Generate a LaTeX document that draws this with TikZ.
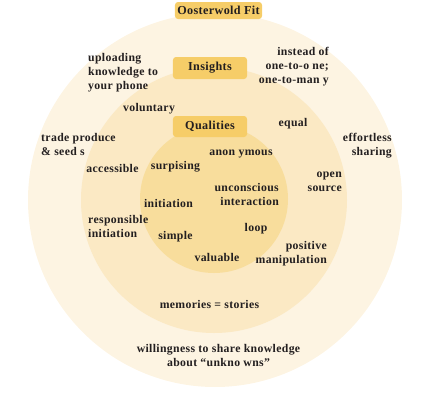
\documentclass[tikz,border=0pt]{standalone}
\usepackage{fontspec}
\setmainfont{Liberation Serif}[LetterSpace=3]
\usetikzlibrary{positioning}

\definecolor{ringout}{HTML}{FDF4E2}
\definecolor{ringmid}{HTML}{FBE9C4}
\definecolor{ringin}{HTML}{F8DD9C}
\definecolor{boxfill}{HTML}{F6CD68}
\definecolor{ink}{HTML}{231F20}

\tikzset{
  title/.style={fill=boxfill, rounded corners=3bp, text=ink, inner sep=0pt,
    font=\bfseries\fontsize{12.2}{14}\selectfont},
  word/.style={text=ink, inner sep=0pt, font=\bfseries\fontsize{11.8}{14}\selectfont}
}

\begin{document}
\begin{tikzpicture}[x=1bp, y=-1bp]
    \useasboundingbox (0,0) rectangle (429,400);

    % rings
    \fill[ringout] (215,200) circle (187);
    \fill[ringmid] (214,200) circle (133);
    \fill[ringin] (214,199) circle (74);

    % headings
    \node[title, minimum width=87bp, minimum height=17bp] (fit) at (218.5,10.5) {Oosterwold Fit};
    \node[title, minimum width=74bp, minimum height=22bp] (insights) at (210,68) {Insights};
    \node[title, minimum width=74bp, minimum height=21bp] (qualities) at (210,126.5) {Qualities};

    % outer ring
    \node[word, align=left, anchor=west] (upload) at (88,73) {uploading\\knowledge to\\your phone};
    \node[word, align=right, anchor=east] (instead) at (329,67) {instead of\\one-to-o ne;\\one-to-man y};
    \node[word, align=left, anchor=west] (trade) at (41,144.5) {trade produce\\\& seed s};
    \node[word, align=right, anchor=east] (effort) at (392,145.5) {effortless\\sharing};
    \node[word, align=center] (willing) at (218.5,355.5) {willingness to share knowledge\\about “unkno wns”};

    % middle ring
    \node[word] (volunt) at (149,109) {voluntary};
    \node[word] (equal) at (293,124) {equal};
    \node[word] (access) at (112.5,168) {accessible};
    \node[word, align=right, anchor=east] (opensrc) at (342,181.5) {open\\source};
    \node[word, align=left, anchor=west] (respons) at (88,226) {responsible\\initiation};
    \node[word, align=right, anchor=east] (posit) at (327,254) {positive\\manipulation};
    \node[word] (memory) at (209.5,304) {memories = stories};

    % inner ring
    \node[word] (surp) at (175.5,167) {surpising};
    \node[word] (anon) at (241,154) {anon ymous};
    \node[word, align=right, anchor=east] (uncon) at (279,194.5) {unconscious\\interaction};
    \node[word] (init) at (168.5,203) {initiation};
    \node[word] (simple) at (175.5,237) {simple};
    \node[word] (loop) at (256,229) {loop};
    \node[word] (value) at (217,257) {valuable};
\end{tikzpicture}
\end{document}
